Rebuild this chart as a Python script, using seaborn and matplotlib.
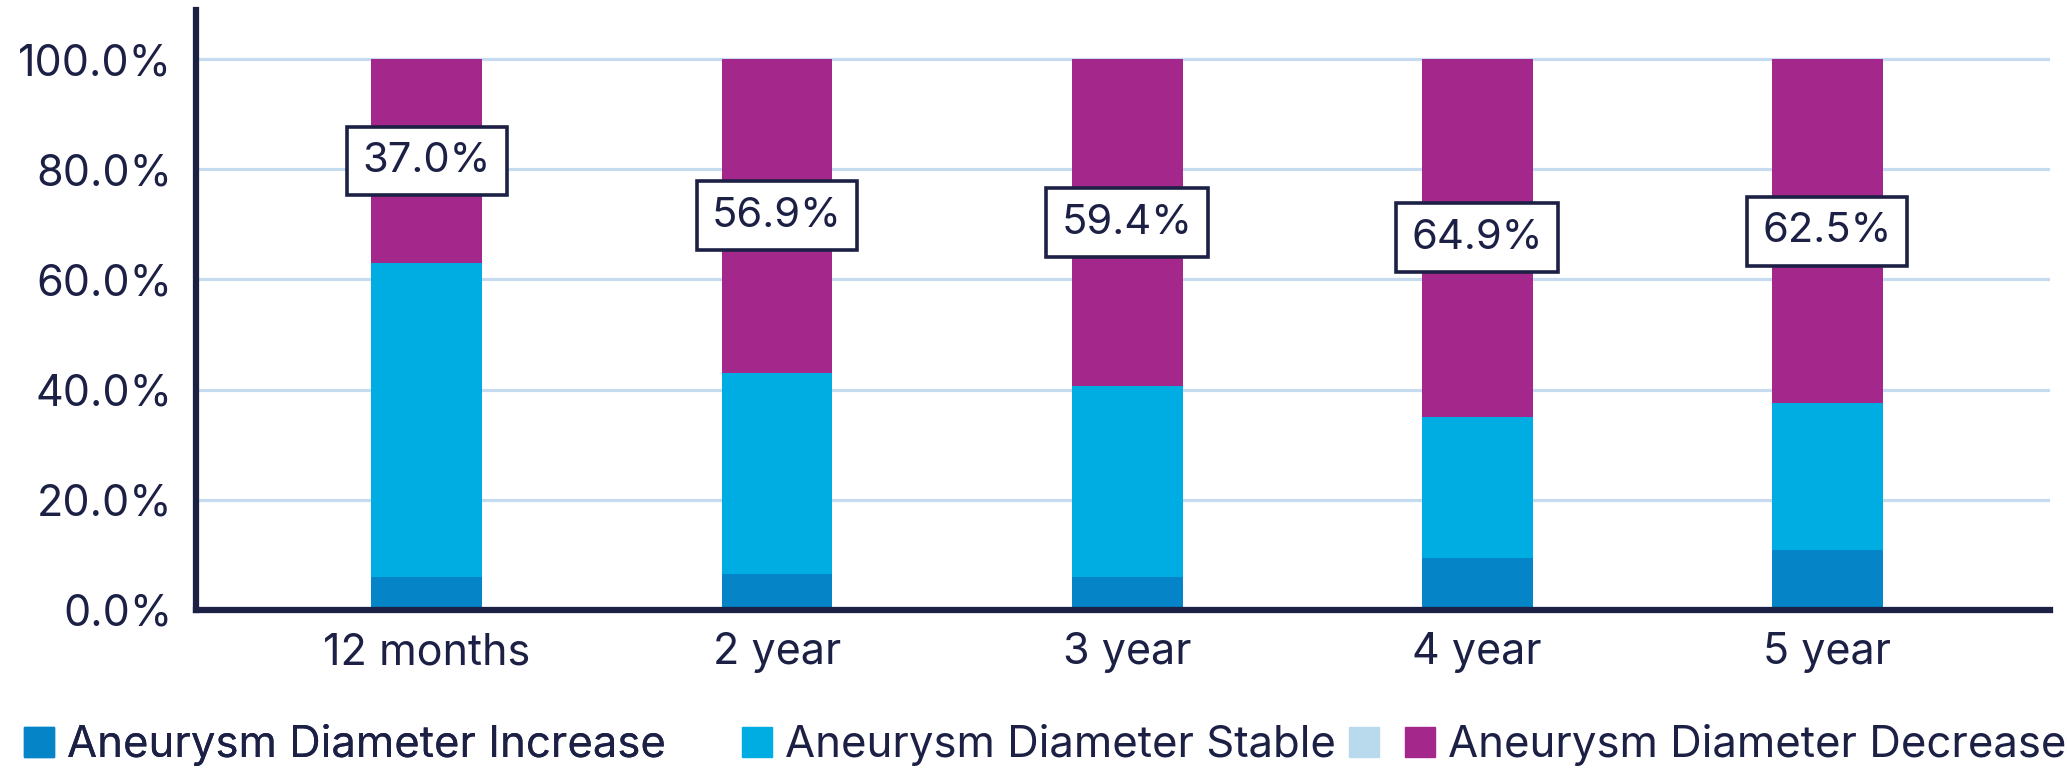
import matplotlib
matplotlib.use("Agg")
import matplotlib.pyplot as plt
import seaborn as sns
import pandas as pd
import numpy as np
from matplotlib.patches import Patch

# ---- data ----
categories = ["12 months", "2 year", "3 year", "4 year", "5 year"]
increase = [6.0, 6.5, 5.9, 9.5, 10.9]
stable = [57.0, 36.6, 34.7, 25.6, 26.6]
decrease = [37.0, 56.9, 59.4, 64.9, 62.5]
series_names = ["Aneurysm Diameter Increase", "Aneurysm Diameter Stable", "", "Aneurysm Diameter Decrease"]
yticks = [0, 20, 40, 60, 80, 100]

NAVY = "#1c2045"
C_INC = "#0585c8"
C_STB = "#00ade2"
C_EMPTY = "#b9d9ec"
C_DEC = "#a4278c"
GRID = "#c6dbf0"

sns.set_theme(style="white")
plt.rcParams["font.family"] = ["Inter", "DejaVu Sans"]

df = pd.DataFrame({"cat": categories, "inc": increase, "stb": stable, "dec": decrease})
df["lvl2"] = df["inc"] + df["stb"]
df["lvl3"] = df["lvl2"] + df["dec"]

fig = plt.figure(figsize=(20.67, 7.73), dpi=100)
ax = fig.add_axes([0.0948, 0.2109, 0.8970, 0.7761])

W = 0.317
sns.barplot(data=df, x="cat", y="lvl3", color=C_DEC, saturation=1, width=W, ax=ax, linewidth=0, zorder=2)
sns.barplot(data=df, x="cat", y="lvl2", color=C_STB, saturation=1, width=W, ax=ax, linewidth=0, zorder=3)
sns.barplot(data=df, x="cat", y="inc", color=C_INC, saturation=1, width=W, ax=ax, linewidth=0, zorder=4)

ax.set_xlim(-0.66, 4.637)
ax.set_ylim(0, 108.9)
ax.set_yticks(yticks)
ax.set_yticklabels([f"{v:.1f}%" for v in yticks])
for v in yticks[1:]:
    ax.axhline(v, color=GRID, lw=2.3, zorder=1)

ax.set_xlabel("")
ax.set_ylabel("")
for s in ["top", "right"]:
    ax.spines[s].set_visible(False)
for s in ["left", "bottom"]:
    ax.spines[s].set_color(NAVY)
    ax.spines[s].set_linewidth(4.5)
    ax.spines[s].set_zorder(6)
ax.tick_params(axis="both", length=0, colors=NAVY, labelsize=31)
ax.tick_params(axis="y", pad=17)
ax.tick_params(axis="x", pad=16)

# labels centered in the decrease segment
for i, row in df.iterrows():
    ax.text(i, row["lvl2"] + row["dec"] / 2, f"{row['dec']:.1f}%", ha="center", va="center",
            fontsize=30, color=NAVY, zorder=7,
            bbox=dict(boxstyle="square,pad=0.37", fc="white", ec=NAVY, lw=2.6))

handles = [Patch(color=C_INC), Patch(color=C_STB), Patch(color=C_EMPTY), Patch(color=C_DEC)]
leg_kw = dict(loc="center left", frameon=False, fontsize=31.5, handlelength=0.68, handleheight=0.68,
              handletextpad=0.3, labelcolor=NAVY, borderaxespad=0, borderpad=0)
leg1 = fig.legend(handles[:1], series_names[:1], bbox_to_anchor=(24 / 2067, 0.036), ncol=1, **leg_kw)
fig.add_artist(leg1)
fig.legend(handles[1:], series_names[1:], bbox_to_anchor=(742 / 2067, 0.036), ncol=3,
           columnspacing=0.3, **leg_kw)

fig.savefig("out.png", dpi=100)
